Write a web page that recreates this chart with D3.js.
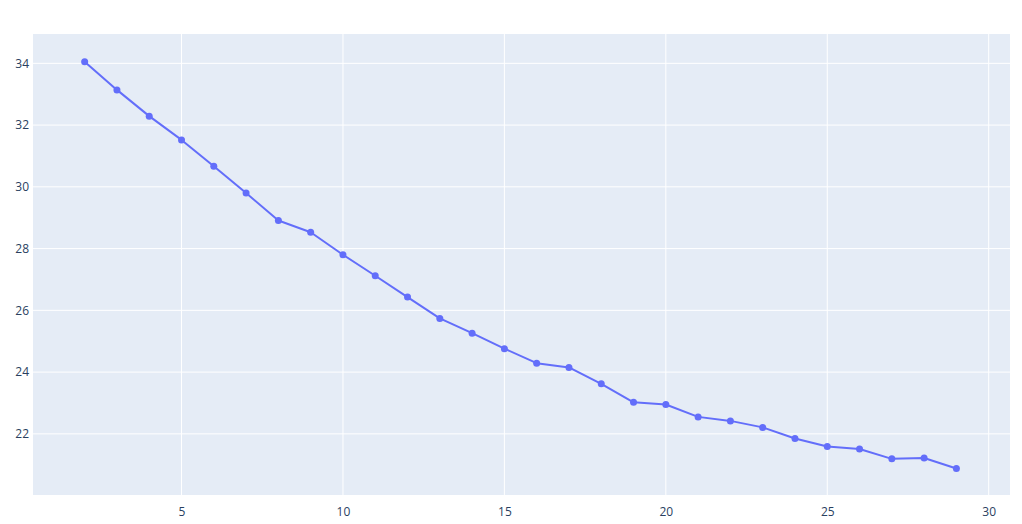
<!DOCTYPE html>
<html>
<head>
<meta charset="utf-8">
<script src="https://cdn.jsdelivr.net/npm/d3@7"></script>
<style>
  html, body { margin: 0; padding: 0; background: #fff; }
  svg text { font-family: "Open Sans", "Noto Sans", sans-serif; font-size: 12px; fill: #2a3f5f; }
</style>
</head>
<body>
<svg id="chart" width="1022" height="524"></svg>
<script>
const xValues = [2,3,4,5,6,7,8,9,10,11,12,13,14,15,16,17,18,19,20,21,22,23,24,25,26,27,28,29];
const yValues = [34.05,33.14,32.29,31.52,30.67,29.80,28.91,28.53,27.80,27.12,26.43,25.74,25.26,24.76,24.29,24.15,23.62,23.02,22.95,22.55,22.42,22.21,21.85,21.59,21.51,21.19,21.22,20.88];
const xTicks = [5,10,15,20,25,30];
const yTicks = [22,24,26,28,30,32,34];

const W = 1022, H = 524;
const margin = {left: 33, top: 34, right: 12, bottom: 29};
const pw = W - margin.left - margin.right;
const ph = H - margin.top - margin.bottom;

const svg = d3.select("#chart");
const x = d3.scaleLinear().domain([0.4, 30.66]).range([margin.left, margin.left + pw]);
const y = d3.scaleLinear().domain([20.02, 34.95]).range([margin.top + ph, margin.top]);

svg.append("rect").attr("x", margin.left).attr("y", margin.top)
  .attr("width", pw).attr("height", ph).attr("fill", "#E5ECF6");

// grid
const grid = svg.append("g");
grid.selectAll(".vx").data(xTicks).enter().append("line")
  .attr("x1", d => x(d)).attr("x2", d => x(d))
  .attr("y1", margin.top).attr("y2", margin.top + ph)
  .attr("stroke", "#fff").attr("stroke-width", 1);
grid.selectAll(".hy").data(yTicks).enter().append("line")
  .attr("x1", margin.left).attr("x2", margin.left + pw)
  .attr("y1", d => y(d)).attr("y2", d => y(d))
  .attr("stroke", "#fff").attr("stroke-width", 1);

// axes (labels only)
const xAxis = svg.append("g").attr("transform", `translate(0,${margin.top + ph})`)
  .call(d3.axisBottom(x).tickValues(xTicks).tickSize(0).tickPadding(12).tickFormat(d3.format("d")));
xAxis.select(".domain").remove();
xAxis.selectAll("text").attr("fill", "#2a3f5f").style("font-size", "12px");

const yAxis = svg.append("g").attr("transform", `translate(${margin.left},0)`)
  .call(d3.axisLeft(y).tickValues(yTicks).tickSize(0).tickPadding(4).tickFormat(d3.format("d")));
yAxis.select(".domain").remove();
yAxis.selectAll("text").attr("fill", "#2a3f5f").style("font-size", "12px");

const data = xValues.map((v, i) => ({x: v, y: yValues[i]}));
const line = d3.line().x(d => x(d.x)).y(d => y(d.y));

svg.append("path").datum(data).attr("d", line)
  .attr("fill", "none").attr("stroke", "#636efa").attr("stroke-width", 2)
  .attr("stroke-linejoin", "round");

svg.append("g").selectAll("circle").data(data).enter().append("circle")
  .attr("cx", d => x(d.x)).attr("cy", d => y(d.y)).attr("r", 3.5)
  .attr("fill", "#636efa");
</script>
</body>
</html>
